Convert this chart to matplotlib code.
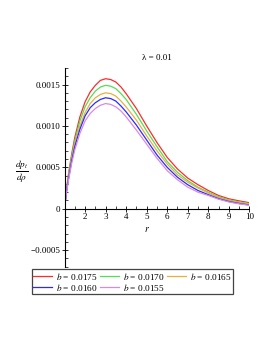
import matplotlib
matplotlib.use("Agg")
import matplotlib.pyplot as plt
from matplotlib.ticker import MultipleLocator

# radial coordinate and the five curves
r = [1.05, 1.1, 1.2, 1.35, 1.5, 1.75, 2.0, 2.25, 2.5, 2.75, 3.0, 3.25, 3.5, 3.75,
     4.0, 4.25, 4.5, 5.0, 5.5, 6.0, 6.5, 7.0, 7.5, 8.0, 8.5, 9.0, 9.5, 10.0]

b_0175 = [0.00012, 0.00024, 0.00043, 0.00066, 0.00086, 0.00111, 0.00129, 0.00141,
          0.00149, 0.00155, 0.00157, 0.00156, 0.00153, 0.00147, 0.00139, 0.00130,
          0.00121, 0.00100, 0.00080, 0.00062, 0.00048, 0.00037, 0.00029, 0.00022,
          0.00016, 0.00012, 0.000095, 0.000073]
b_0170 = [0.000115, 0.00023, 0.00041, 0.00063, 0.00082, 0.00106, 0.00123, 0.00134,
          0.00142, 0.00147, 0.00149, 0.00148, 0.00145, 0.00139, 0.00132, 0.00123,
          0.00114, 0.00094, 0.00075, 0.00057, 0.00044, 0.00034, 0.00026, 0.00020,
          0.000145, 0.000106, 0.000082, 0.000062]
b_0165 = [0.00011, 0.00022, 0.00039, 0.00060, 0.00078, 0.00100, 0.00116, 0.00127,
          0.00134, 0.00138, 0.00140, 0.00139, 0.00136, 0.00130, 0.00123, 0.00115,
          0.00107, 0.00088, 0.00070, 0.00054, 0.00041, 0.00032, 0.00025, 0.00019,
          0.000137, 0.000100, 0.000076, 0.000057]
b_0160 = [0.000105, 0.00021, 0.00037, 0.00058, 0.00075, 0.00096, 0.00112, 0.00122,
          0.00128, 0.00132, 0.00134, 0.00133, 0.00130, 0.00124, 0.00117, 0.00109,
          0.00101, 0.00083, 0.00065, 0.00050, 0.00038, 0.00029, 0.00022, 0.00017,
          0.000122, 0.000088, 0.000064, 0.000045]
b_0155 = [0.0001, 0.0002, 0.00035, 0.00055, 0.00071, 0.00091, 0.00106, 0.00115,
          0.00121, 0.00125, 0.00127, 0.00126, 0.00123, 0.00118, 0.00111, 0.00103,
          0.00095, 0.00078, 0.00061, 0.00046, 0.00035, 0.00026, 0.00020, 0.00016,
          0.000115, 0.000082, 0.000059, 0.000041]

labels = ["0.0175", "0.0170", "0.0165", "0.0160", "0.0155"]
colors = ["#ff2a2a", "#55dd55", "#e8b040", "#2a2aff", "#d68ae8"]

ytick_vals = [-0.0005, 0, 0.0005, 0.0010, 0.0015]
ytick_labels = ["\u22120.0005", "0", "0.0005", "0.0010", "0.0015"]
xtick_vals = [2, 3, 4, 5, 6, 7, 8, 9, 10]

plt.rcParams["font.family"] = ["Liberation Serif", "DejaVu Serif"]
plt.rcParams["mathtext.fontset"] = "stix"

fig = plt.figure(figsize=(2.73, 3.53), dpi=100)
ax = fig.add_axes([0.2363, 0.2445, 0.677, 0.563])

series = [b_0175, b_0170, b_0165, b_0160, b_0155]
handles = []
for vals, lab, col in zip(series, labels, colors):
    h, = ax.plot(r, vals, color=col, lw=0.9, label=r"$b$ = " + lab)
    handles.append(h)

ax.set_xlim(1, 10)
ax.set_ylim(-0.0007, 0.0017)

# maple style axes crossing
ax.spines["top"].set_visible(False)
ax.spines["right"].set_visible(False)
ax.spines["left"].set_position(("data", 1))
ax.spines["bottom"].set_position(("data", 0))
for s in ["left", "bottom"]:
    ax.spines[s].set_linewidth(0.8)

ax.set_xticks(xtick_vals)
ax.set_xticklabels([str(v) for v in xtick_vals])
ax.xaxis.set_minor_locator(MultipleLocator(0.5))
ax.set_yticks(ytick_vals)
ax.set_yticklabels(ytick_labels)
ax.yaxis.set_minor_locator(MultipleLocator(0.0001))

ax.tick_params(which="major", direction="inout", length=4, width=0.6, labelsize=6.5, pad=1)
ax.tick_params(which="minor", direction="in", length=2, width=0.5)

ax.set_title("\u03bb = 0.01", fontsize=6.5, pad=6)
fig.text(147 / 273, 1 - 229 / 353, r"$r$", fontsize=7, ha="center", va="center")
fig.text(22 / 273, 1 - 172 / 353, r"$\frac{dp_t}{d\rho}$", fontsize=9.5, ha="center", va="center")

order = [0, 3, 1, 4, 2]
leg = fig.legend([handles[i] for i in order], [handles[i].get_label() for i in order],
                 ncol=3, loc="center", bbox_to_anchor=(0.485, 0.2025), fontsize=6.7,
                 handlelength=2.0, handletextpad=0.45, columnspacing=0.3,
                 labelspacing=0.0, borderpad=0.15, fancybox=False, framealpha=1,
                 borderaxespad=0)
leg.get_frame().set_edgecolor("#444444")
leg.get_frame().set_linewidth(0.9)

fig.savefig("out.png", dpi=100)
